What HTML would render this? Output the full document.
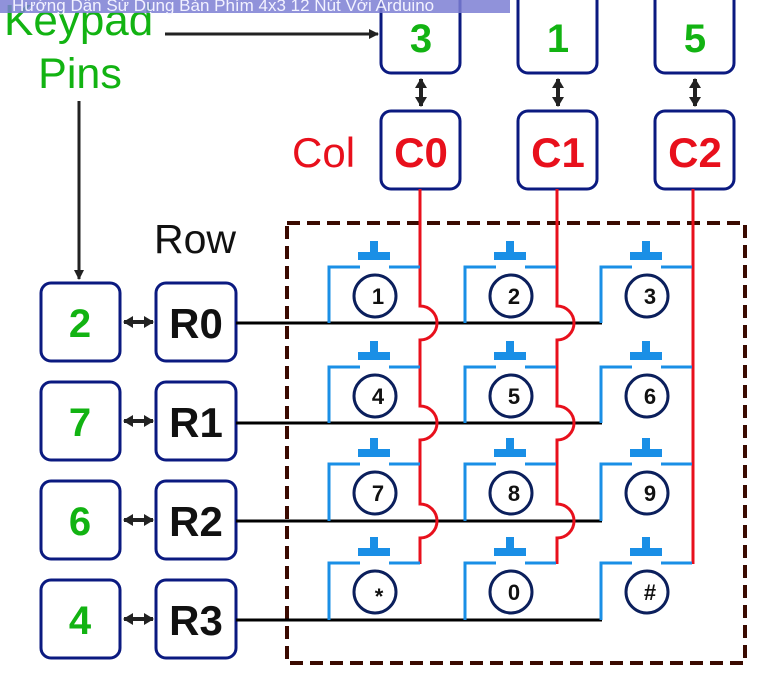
<!DOCTYPE html>
<html><head><meta charset="utf-8"><style>
html,body{margin:0;padding:0;background:#fff;width:759px;height:693px;overflow:hidden}
svg{display:block}
</style></head><body>
<svg width="759" height="693" viewBox="0 0 759 693" xmlns="http://www.w3.org/2000/svg" font-family="Liberation Sans, Arial, sans-serif">
<defs>
<marker id="ah" markerWidth="10" markerHeight="10" refX="9" refY="5" orient="auto" markerUnits="userSpaceOnUse"><path d="M0,0 L10,5 L0,10 z" fill="#222"/></marker>
<marker id="ah2" markerWidth="10" markerHeight="12" refX="9" refY="6" orient="auto-start-reverse" markerUnits="userSpaceOnUse"><path d="M0,0 L10,6 L0,12 z" fill="#222"/></marker>
</defs>
<rect width="759" height="693" fill="#fff"/>
<rect x="287" y="223" width="458" height="440" fill="none" stroke="#3a0a00" stroke-width="4" stroke-dasharray="13 7"/>
<text x="4" y="35" font-size="44" fill="#12b312">Keypad</text>
<text x="80" y="88" font-size="43" fill="#12b312" text-anchor="middle">Pins</text>
<line x1="165" y1="34" x2="378" y2="34" stroke="#222" stroke-width="3" marker-end="url(#ah)"/>
<line x1="79" y1="101" x2="79" y2="279" stroke="#222" stroke-width="3" marker-end="url(#ah)"/>
<text x="292" y="167" font-size="42" fill="#e8101c">Col</text>
<text x="154" y="253" font-size="41" fill="#111">Row</text>
<g fill="#fff" stroke="#0b1a80" stroke-width="3">
<rect x="381" y="-12" width="79" height="85" rx="10"/>
<rect x="518" y="-12" width="79" height="85" rx="10"/>
<rect x="655" y="-12" width="79" height="85" rx="10"/>
<rect x="381" y="111" width="79" height="78" rx="10"/>
<rect x="518" y="111" width="79" height="78" rx="10"/>
<rect x="655" y="111" width="79" height="78" rx="10"/>
<rect x="41" y="283" width="79" height="78" rx="10"/>
<rect x="41" y="382" width="79" height="78" rx="10"/>
<rect x="41" y="481" width="79" height="78" rx="10"/>
<rect x="41" y="580" width="79" height="78" rx="10"/>
<rect x="156" y="283" width="80" height="78" rx="10"/>
<rect x="156" y="382" width="80" height="78" rx="10"/>
<rect x="156" y="481" width="80" height="78" rx="10"/>
<rect x="156" y="580" width="80" height="78" rx="10"/>
</g>
<g font-size="40" font-weight="bold" text-anchor="middle" fill="#12b312">
<text x="421" y="52">3</text><text x="558" y="52">1</text><text x="695" y="52">5</text>
<text x="80" y="337">2</text><text x="80" y="436">7</text><text x="80" y="535">6</text><text x="80" y="634">4</text>
</g>
<g font-size="42" font-weight="bold" text-anchor="middle" fill="#e8101c">
<text x="421" y="167">C0</text><text x="558" y="167">C1</text><text x="695" y="167">C2</text>
</g>
<g font-size="42" font-weight="bold" text-anchor="middle" fill="#111">
<text x="196" y="338">R0</text><text x="196" y="437">R1</text><text x="196" y="536">R2</text><text x="196" y="635">R3</text>
</g>
<g stroke="#222" stroke-width="4" marker-start="url(#ah2)" marker-end="url(#ah2)">
<line x1="421" y1="79" x2="421" y2="106"/><line x1="558" y1="79" x2="558" y2="106"/><line x1="695" y1="79" x2="695" y2="106"/>
<line x1="124" y1="322" x2="153" y2="322"/><line x1="124" y1="421" x2="153" y2="421"/><line x1="124" y1="520" x2="153" y2="520"/><line x1="124" y1="619" x2="153" y2="619"/>
</g>
<g stroke="#000" stroke-width="3">
<line x1="236" y1="323" x2="602" y2="323"/>
<line x1="236" y1="423" x2="602" y2="423"/>
<line x1="236" y1="521" x2="602" y2="521"/>
<line x1="236" y1="620" x2="602" y2="620"/>
</g>
<g stroke="#e8101c" stroke-width="3" fill="none">
<path d="M420,189 V306 A17,17 0 0 1 420,340 V406 A17,17 0 0 1 420,440 V504 A17,17 0 0 1 420,538 V564"/>
<path d="M557,189 V306 A17,17 0 0 1 557,340 V406 A17,17 0 0 1 557,440 V504 A17,17 0 0 1 557,538 V564"/>
<path d="M693,189 V564"/>
</g>
<g stroke="#1a8fe6" stroke-width="3" fill="none">
<path d="M329,323 V267 H360 M389,267 H420"/><path d="M465,323 V267 H496 M525,267 H556"/><path d="M601,323 V267 H632 M661,267 H692"/>
<path d="M329,423 V367 H360 M389,367 H420"/><path d="M465,423 V367 H496 M525,367 H556"/><path d="M601,423 V367 H632 M661,367 H692"/>
<path d="M329,521 V464 H360 M389,464 H420"/><path d="M465,521 V464 H496 M525,464 H556"/><path d="M601,521 V464 H632 M661,464 H692"/>
<path d="M329,620 V563 H360 M389,563 H420"/><path d="M465,620 V563 H496 M525,563 H556"/><path d="M601,620 V563 H632 M661,563 H692"/>
</g>
<g fill="#1a8fe6">
<rect x="370" y="241" width="8" height="12"/><rect x="358" y="252" width="32" height="8"/>
<rect x="506" y="241" width="8" height="12"/><rect x="494" y="252" width="32" height="8"/>
<rect x="642" y="241" width="8" height="12"/><rect x="630" y="252" width="32" height="8"/>
<rect x="370" y="341" width="8" height="12"/><rect x="358" y="352" width="32" height="8"/>
<rect x="506" y="341" width="8" height="12"/><rect x="494" y="352" width="32" height="8"/>
<rect x="642" y="341" width="8" height="12"/><rect x="630" y="352" width="32" height="8"/>
<rect x="370" y="438" width="8" height="12"/><rect x="358" y="449" width="32" height="8"/>
<rect x="506" y="438" width="8" height="12"/><rect x="494" y="449" width="32" height="8"/>
<rect x="642" y="438" width="8" height="12"/><rect x="630" y="449" width="32" height="8"/>
<rect x="370" y="537" width="8" height="12"/><rect x="358" y="548" width="32" height="8"/>
<rect x="506" y="537" width="8" height="12"/><rect x="494" y="548" width="32" height="8"/>
<rect x="642" y="537" width="8" height="12"/><rect x="630" y="548" width="32" height="8"/>
</g>
<g fill="#fff" stroke="#0b1f5c" stroke-width="3">
<circle cx="375" cy="296" r="21"/><circle cx="511" cy="296" r="21"/><circle cx="647" cy="296" r="21"/>
<circle cx="375" cy="396" r="21"/><circle cx="511" cy="396" r="21"/><circle cx="647" cy="396" r="21"/>
<circle cx="375" cy="493" r="21"/><circle cx="511" cy="493" r="21"/><circle cx="647" cy="493" r="21"/>
<circle cx="375" cy="592" r="21"/><circle cx="511" cy="592" r="21"/><circle cx="647" cy="592" r="21"/>
</g>
<g font-size="22" font-weight="bold" text-anchor="middle" fill="#111">
<text x="378" y="304">1</text><text x="514" y="304">2</text><text x="650" y="304">3</text>
<text x="378" y="404">4</text><text x="514" y="404">5</text><text x="650" y="404">6</text>
<text x="378" y="501">7</text><text x="514" y="501">8</text><text x="650" y="501">9</text>
<text x="379" y="604">*</text><text x="514" y="600">0</text><text x="650" y="600">#</text>
</g>
<rect x="0" y="0" width="510" height="13" fill="#7d7fd4" opacity="0.85"/>
<text x="12" y="11" font-size="17" fill="#f2f2ff">Hướng Dẫn Sử Dụng Bàn Phím 4x3 12 Nút Với Arduino</text>
</svg>
</body></html>
